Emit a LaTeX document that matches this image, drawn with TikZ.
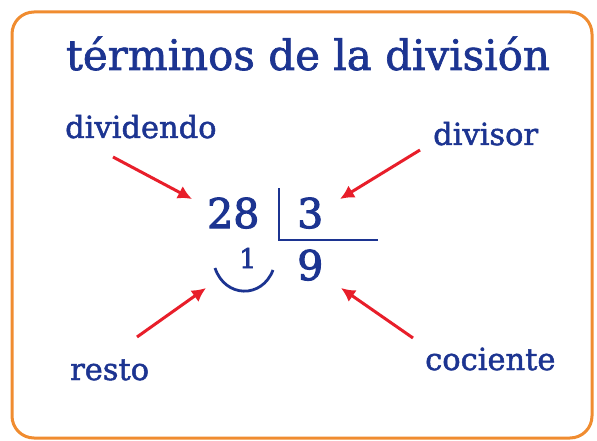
\documentclass[tikz,border=0pt]{standalone}
\usepackage{fontspec}
\setmainfont{DejaVu Serif}
\newfontfamily\medserif{DejaVu Serif}[FakeBold=1.6]
\newfontfamily\digserif{DejaVu Serif}[FakeBold=2.6]
\usetikzlibrary{arrows.meta}
\definecolor{txtblue}{RGB}{28,52,145}
\definecolor{arrred}{RGB}{232,30,42}
\definecolor{frameorange}{RGB}{240,140,48}
\tikzset{
  lbl/.style={anchor=base west, inner sep=0pt, text=txtblue, font=\medserif\fontsize{30.5}{36}\selectfont},
  ttl/.style={anchor=base, inner sep=0pt, text=txtblue, font=\medserif\fontsize{42}{50}\selectfont},
  dig/.style={anchor=base west, inner sep=0pt, text=txtblue, font=\digserif\fontsize{41}{48}\selectfont},
  smalldig/.style={anchor=base west, inner sep=0pt, text=txtblue, font=\digserif\fontsize{27}{32}\selectfont},
  redarrow/.style={draw=arrred, line width=3pt, -{Latex[length=14pt,width=14pt]}},
  bluestroke/.style={draw=txtblue, line width=2.8pt}
}
\begin{document}
\begin{tikzpicture}[x=1pt,y=-1pt]
\fill[white] (0,0) rectangle (597,441);
\useasboundingbox (0,0) rectangle (597,441);
\draw[frameorange, line width=3pt, rounded corners=22pt] (12,12) rectangle (592,438);
\node[ttl] (title) at (308,70) {términos de la división};
\node[lbl] (dividendo) at (65,138) {dividendo};
\node[lbl] (divisor) at (433,145) {divisor};
\node[lbl] (resto) at (70,380) {resto};
\node[lbl] (cociente) at (425,370) {cociente};
\node[dig] (dvd) at (207,228) {28};
\node[dig] (dvs) at (297,228) {3};
\node[dig] (coc) at (297,280) {9};
\node[smalldig] (res) at (239,268) {1};
\draw[bluestroke] (279,188) -- (279,240) -- (378,240);
\coordinate (arcL) at (215,268);
\coordinate (arcR) at (273,270);
\draw[bluestroke] (arcL) .. controls (225,298) and (262,299) .. (arcR);
\coordinate (s1) at (113,157); \coordinate (e1) at (192,199);
\coordinate (s2) at (420,150); \coordinate (e2) at (340,199);
\coordinate (s3) at (137,337); \coordinate (e3) at (206,288);
\coordinate (s4) at (413,338); \coordinate (e4) at (341,288);
\draw[redarrow] (s1) -- (e1);
\draw[redarrow] (s2) -- (e2);
\draw[redarrow] (s3) -- (e3);
\draw[redarrow] (s4) -- (e4);
\end{tikzpicture}
\end{document}
